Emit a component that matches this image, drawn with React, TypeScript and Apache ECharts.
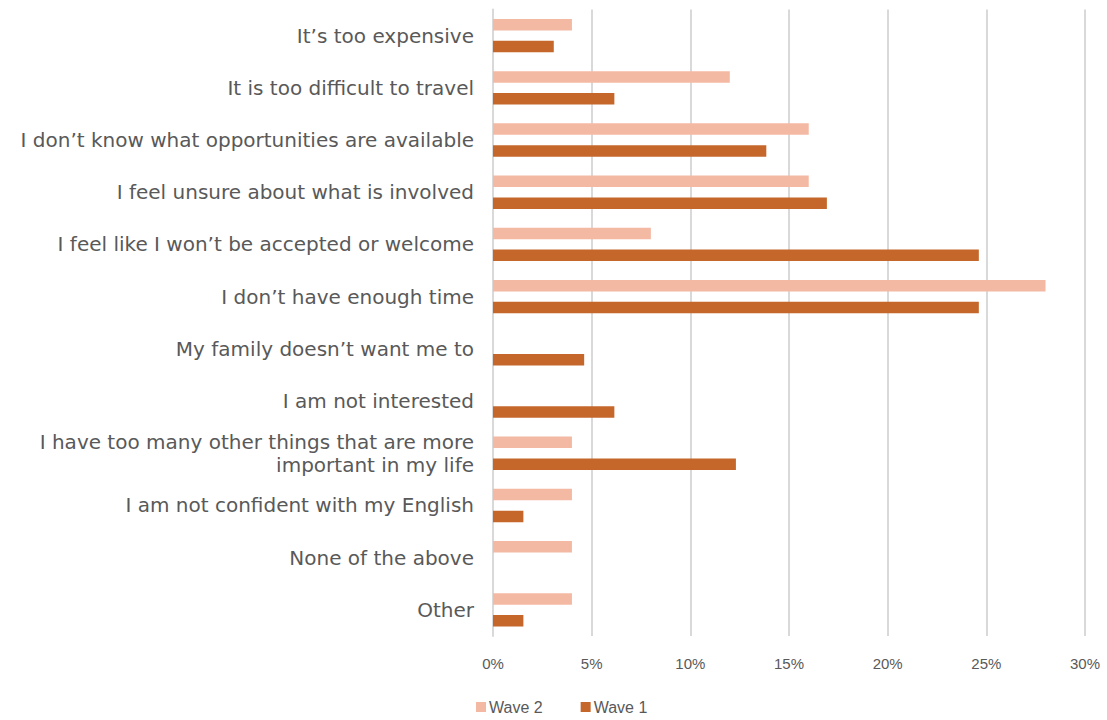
import React, { useEffect, useRef } from "react";
import * as echarts from "echarts";

const categories = [
  "It’s too expensive",
  "It is too difficult to travel",
  "I don’t know what opportunities are available",
  "I feel unsure about what is involved",
  "I feel like I won’t be accepted or welcome",
  "I don’t have enough time",
  "My family doesn’t want me to",
  "I am not interested",
  "I have too many other things that are more\nimportant in my life",
  "I am not confident with my English",
  "None of the above",
  "Other",
];

const wave2 = [4, 12, 16, 16, 8, 28, null, null, 4, 4, 4, 4];
const wave1 = [3.08, 6.15, 13.85, 16.92, 24.62, 24.62, 4.62, 6.15, 12.31, 1.54, null, 1.54];

const xTicks = { min: 0, max: 30, interval: 5 };

export default function App() {
  const ref = useRef<HTMLDivElement>(null);
  useEffect(() => {
    if (!ref.current) return;
    const chart = echarts.init(ref.current, null, { renderer: "svg" });
    chart.setOption({
      animation: false,
      grid: { left: 493, right: 22, top: 9.5, bottom: 84, containLabel: false },
      legend: {
        bottom: 0,
        left: 471,
        itemWidth: 10,
        itemHeight: 10,
        itemGap: 38,
        icon: "rect",
        textStyle: { fontFamily: "Liberation Sans", fontSize: 16, color: "#595959", padding: [0, 0, 0, -2] },
        data: ["Wave 2", "Wave 1"],
      },
      xAxis: {
        type: "value",
        min: xTicks.min,
        max: xTicks.max,
        interval: xTicks.interval,
        axisLine: { show: false },
        axisTick: { show: false },
        axisLabel: {
          formatter: "{value}%",
          fontFamily: "Liberation Sans",
          fontSize: 15,
          color: "#595959",
          margin: 20,
        },
        splitLine: { show: true, lineStyle: { color: "#d9d9d9", width: 2 } },
      },
      yAxis: {
        type: "category",
        inverse: true,
        data: categories,
        axisLine: { show: true, lineStyle: { color: "#d9d9d9", width: 2 } },
        axisTick: { show: false },
        axisLabel: {
          fontFamily: "DejaVu Sans",
          fontSize: 20,
          color: "#595959",
          margin: 19,
          lineHeight: 23,
          align: "right",
        },
      },
      series: [
        {
          name: "Wave 2",
          type: "bar",
          data: wave2,
          barWidth: 11.5,
          barGap: "90%",
          itemStyle: { color: "#F4B9A3" },
        },
        {
          name: "Wave 1",
          type: "bar",
          data: wave1,
          barWidth: 11.5,
          barGap: "90%",
          itemStyle: { color: "#C5672B" },
        },
      ],
    });
    return () => chart.dispose();
  }, []);
  return (
    <div
      ref={ref}
      style={{ position: "fixed", left: 0, top: 0, width: 1107, height: 720, background: "#fff" }}
    />
  );
}
